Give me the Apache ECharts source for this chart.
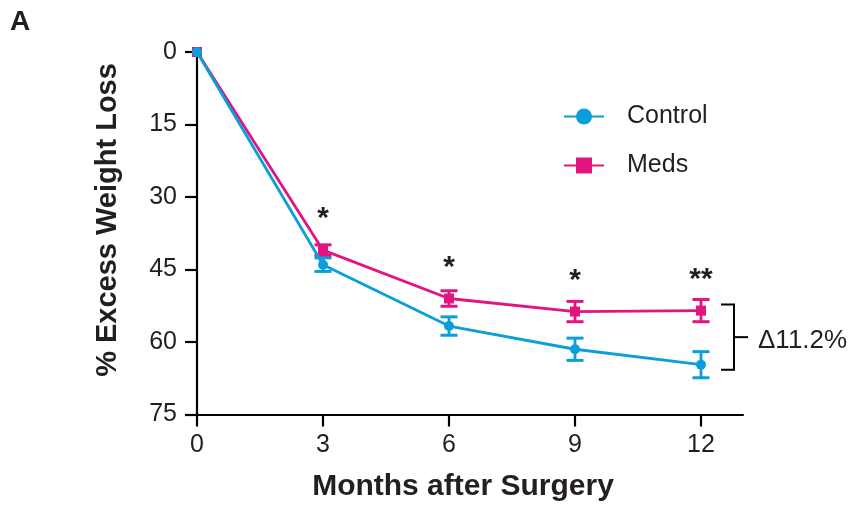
<!DOCTYPE html>
<html><head><meta charset="utf-8">
<script src="https://cdn.jsdelivr.net/npm/echarts@6/dist/echarts.min.js"></script>
<style>html,body{margin:0;padding:0;background:#fff}#chart{width:852px;height:505px}</style>
</head><body><div id="chart"></div>
<script>
// Months after surgery and % excess weight loss (mean ± SEM)
const months = [0, 3, 6, 9, 12];
const monthTicks = [0, 3, 6, 9, 12];
const controlMean = [0, 44.0, 56.7, 61.5, 64.7];
const controlSem = [0, 1.4, 1.9, 2.3, 2.7];
const medsMean = [0, 41.0, 51.0, 53.7, 53.5];
const medsSem = [0, 1.1, 1.6, 2.1, 2.3];
const significance = ['', '*', '*', '*', '**'];
const seriesNames = ['Control', 'Meds'];

const BLUE = '#0a9fd9';
const PINK = '#e3137f';
const INK = '#231f20';
const FONT = '"Liberation Sans", Arial, Helvetica, sans-serif';

const chart = echarts.init(document.getElementById('chart'), null, { renderer: 'canvas' });

function pairs(mean) { return months.map((m, i) => [m, mean[i]]); }

function errorBars(mean, sem, color) {
  return {
    type: 'custom', silent: true, z: 3,
    data: months.map((m, i) => [m, mean[i] - sem[i], mean[i] + sem[i]]).filter((d, i) => sem[i] > 0),
    encode: { x: 0, y: [1, 2] },
    renderItem(params, api) {
      const x = api.value(0);
      const lo = api.coord([x, api.value(1)]);
      const hi = api.coord([x, api.value(2)]);
      const w = 8.5;
      return { type: 'group', children: [
        { type: 'line', shape: { x1: lo[0], y1: lo[1], x2: hi[0], y2: hi[1] }, style: { stroke: color, lineWidth: 2.8 } },
        { type: 'line', shape: { x1: lo[0] - w, y1: lo[1], x2: lo[0] + w, y2: lo[1] }, style: { stroke: color, lineWidth: 3 } },
        { type: 'line', shape: { x1: hi[0] - w, y1: hi[1], x2: hi[0] + w, y2: hi[1] }, style: { stroke: color, lineWidth: 3 } }
      ] };
    }
  };
}

const last = months.length - 1;
const delta = (controlMean[last] - medsMean[last]).toFixed(1);

chart.setOption({
  animation: false,
  backgroundColor: '#fff',
  grid: { left: 197, top: 52, right: 109, bottom: 90.5, containLabel: false },
  xAxis: {
    type: 'value', min: 0, max: 13, position: 'bottom',
    axisLine: { show: true, onZero: false, lineStyle: { color: '#000', width: 2.2 } },
    axisTick: { show: true, length: 12, customValues: monthTicks, lineStyle: { color: '#000', width: 2.2 } },
    axisLabel: { customValues: monthTicks, margin: 18, fontSize: 25, fontFamily: FONT, color: INK },
    splitLine: { show: false }
  },
  yAxis: {
    type: 'value', min: 0, max: 75, interval: 15, inverse: true,
    axisLine: { show: true, onZero: false, lineStyle: { color: '#000', width: 2.2 } },
    axisTick: { show: true, length: 12, lineStyle: { color: '#000', width: 2.2 } },
    axisLabel: { margin: 20, fontSize: 25, fontFamily: FONT, color: INK },
    splitLine: { show: false }
  },
  legend: {
    data: seriesNames, orient: 'vertical', left: 563, top: 104, padding: 0,
    itemWidth: 40, itemHeight: 20, itemGap: 24,
    textStyle: { fontSize: 25, fontFamily: FONT, color: INK, padding: [0, 0, 0, 18] }
  },
  graphic: [
    { type: 'text', left: 10, top: 8, style: { text: 'A', font: 'bold 28px ' + FONT, fill: INK } },
    { type: 'text', x: 108, y: 220, rotation: Math.PI / 2,
      style: { text: '% Excess Weight Loss', font: 'bold 29px ' + FONT, fill: INK, align: 'center', verticalAlign: 'middle' } },
    { type: 'text', x: 463, y: 487,
      style: { text: 'Months after Surgery', font: 'bold 30px ' + FONT, fill: INK, align: 'center', verticalAlign: 'middle' } }
  ],
  series: [
    errorBars(medsMean, medsSem, PINK),
    errorBars(controlMean, controlSem, BLUE),
    {
      name: 'Meds', type: 'line', data: pairs(medsMean), z: 4,
      symbol: 'rect', symbolSize: 10, showAllSymbol: true,
      lineStyle: { color: PINK, width: 2.8 }, itemStyle: { color: PINK }
    },
    {
      name: 'Control', type: 'line', data: pairs(controlMean), z: 5,
      symbol: 'circle', symbolSize: 10, showAllSymbol: true,
      lineStyle: { color: BLUE, width: 2.8 }, itemStyle: { color: BLUE }
    },
    {
      // significance markers above the Meds points
      type: 'custom', silent: true, z: 6,
      data: months.map((m, i) => [m, medsMean[i], i]).filter(d => significance[d[2]]),
      encode: { x: 0, y: 1 },
      renderItem(params, api) {
        const p = api.coord([api.value(0), api.value(1)]);
        return { type: 'text', x: p[0], y: p[1] - 31,
          style: { text: significance[api.value(2)], font: 'bold 30px ' + FONT, fill: INK, align: 'center', verticalAlign: 'middle' } };
      }
    },
    {
      // bracket showing the 12-month difference
      type: 'custom', silent: true, z: 6,
      data: [[months[last], medsMean[last], controlMean[last]]],
      encode: { x: 0, y: [1, 2] },
      renderItem(params, api) {
        const top = api.coord([api.value(0), api.value(1)]);
        const bot = api.coord([api.value(0), api.value(2)]);
        const x0 = top[0] + 20, x1 = x0 + 13, y0 = top[1] - 6, y1 = bot[1] + 5, ym = (y0 + y1) / 2;
        const st = { stroke: '#000', lineWidth: 2, fill: null };
        return { type: 'group', children: [
          { type: 'polyline', shape: { points: [[x0, y0], [x1, y0], [x1, y1], [x0, y1]] }, style: st },
          { type: 'line', shape: { x1: x1, y1: ym, x2: x1 + 14, y2: ym }, style: st },
          { type: 'text', x: x1 + 24, y: ym + 4,
            style: { text: '\u0394' + delta + '%', font: '26px ' + FONT, fill: INK, align: 'left', verticalAlign: 'middle' } }
        ] };
      }
    }
  ]
});
</script>
</body></html>
